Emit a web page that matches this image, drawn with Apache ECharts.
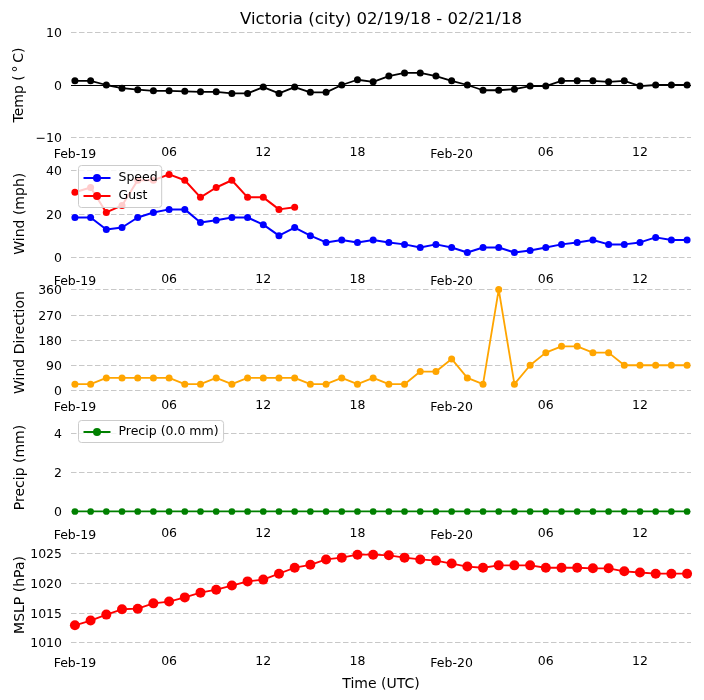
<!DOCTYPE html>
<html>
<head>
<meta charset="utf-8">
<style>html,body{margin:0;padding:0;background:#fff}#c{width:704px;height:700px}</style>
<script src="https://cdn.jsdelivr.net/npm/echarts@6/dist/echarts.min.js"></script>
</head>
<body>
<div id="c"></div>
<script>
const hours = [0,1,2,3,4,5,6,7,8,9,10,11,12,13,14,15,16,17,18,19,20,21,22,23,24,25,26,27,28,29,30,31,32,33,34,35,36,37,38,39];
const tickHours = [0,6,12,18,24,30,36];
const tickLabels = ['Feb-19','06','12','18','Feb-20','06','12'];
const temp = [0.8,0.8,0,-0.6,-0.9,-1.1,-1.1,-1.2,-1.3,-1.3,-1.6,-1.6,-0.4,-1.6,-0.4,-1.4,-1.4,0,1.0,0.6,1.7,2.3,2.3,1.7,0.8,0,-1.0,-1.0,-0.8,-0.2,-0.2,0.8,0.8,0.8,0.6,0.8,-0.2,0,0,0];
const speed = [18.3,18.3,12.8,13.7,18.3,20.6,22,22,16,17,18.3,18.3,15,10,13.7,10,6.9,8,6.9,8,6.9,6,4.6,6,4.6,2.3,4.6,4.6,2.3,3.2,4.6,6,6.9,8,6,6,6.9,9.2,8,8];
const gust = [29.8,32,20.6,23.8,35.3,35.3,38,35.3,27.5,32,35.3,27.5,27.5,22,23];
const direction = [22.5,22.5,45,45,45,45,45,22.5,22.5,45,22.5,45,45,45,45,22.5,22.5,45,22.5,45,22.5,22.5,67.5,67.5,112.5,45,22.5,360,22.5,90,135,157.5,157.5,135,135,90,90,90,90,90];
const precip = [0,0,0,0,0,0,0,0,0,0,0,0,0,0,0,0,0,0,0,0,0,0,0,0,0,0,0,0,0,0,0,0,0,0,0,0,0,0,0,0];
const mslp = [1012.9,1013.7,1014.7,1015.6,1015.7,1016.6,1016.9,1017.6,1018.4,1018.9,1019.6,1020.3,1020.6,1021.6,1022.6,1023.1,1024,1024.3,1024.8,1024.8,1024.7,1024.3,1024,1023.8,1023.3,1022.8,1022.6,1023,1023,1023,1022.6,1022.6,1022.6,1022.5,1022.5,1022,1021.8,1021.6,1021.6,1021.6];

const FONT = 'DejaVu Sans';
const panels = [
  {top:32.5, bottom:137.5, min:-10, max:10, interval:10, name:'Temp (\u2009\u00B0\u2009C)', labelMargin:9, gap:45, namePad:[0,0,0,0]},
  {top:170, bottom:257.5, min:0, max:40, interval:20, name:'Wind (mph)', labelMargin:16, gap:44, namePad:[0,0,0,0]},
  {top:289.5, bottom:390.5, min:0, max:360, interval:90, name:'Wind Direction', labelMargin:9, gap:44, namePad:[0,5,0,0]},
  {top:433.5, bottom:511.5, min:0, max:4, interval:2, name:'Precip (mm)', labelMargin:16, gap:44, namePad:[0,0,0,10]},
  {top:553.5, bottom:642.5, min:1010, max:1025, interval:5, name:'MSLP (hPa)', labelMargin:13, gap:44, namePad:[0,0,0,6]}
];
const pairs = a => a.map((v,i)=>[hours[i],v]);
function line(name,data,idx,color,size,width,extra){
  return Object.assign({
    name, type:'line', xAxisIndex:idx, yAxisIndex:idx, data:pairs(data),
    showSymbol:true, symbol:'circle', symbolSize:size, showAllSymbol:true,
    lineStyle:{color,width}, itemStyle:{color}, emphasis:{disabled:true}, animation:false
  },extra||{});
}
const option = {
  backgroundColor:'#fff',
  animation:false,
  title:{text:'Victoria (city) 02/19/18 - 02/21/18', left:376, top:6, textAlign:'center',
    textStyle:{fontFamily:FONT,fontSize:16.6,fontWeight:'normal',color:'#000'}},
  grid:panels.map(p=>({left:71,width:620,top:p.top,height:p.bottom-p.top,containLabel:false,outerBoundsMode:'none'})),
  xAxis:panels.map((p,i)=>({
    type:'value', gridIndex:i, min:-0.25, max:39.25,
    axisLine:{show:false}, axisTick:{show:false}, splitLine:{show:false},
    axisLabel:{
      customValues:tickHours, margin:p.labelMargin, fontFamily:FONT, fontSize:12.5, color:'#000',
      hideOverlap:false,
      formatter:v=>{const s=tickLabels[tickHours.indexOf(v)];return s.startsWith('Feb')?'{d|'+s+'}':s;},
      rich:{d:{fontFamily:FONT,fontSize:12.5,color:'#000',padding:[2,0,0,0]}}
    },
    name:i===4?'Time (UTC)':'', nameLocation:'middle', nameGap:35,
    nameTextStyle:{fontFamily:FONT,fontSize:14,color:'#000'}
  })),
  yAxis:panels.map((p,i)=>({
    type:'value', gridIndex:i, min:p.min, max:p.max, interval:p.interval,
    axisLine:{show:false}, axisTick:{show:false},
    splitLine:{show:true,lineStyle:{color:'#c8c8c8',width:1,type:[5.5,2.5]}},
    axisLabel:{margin:9,fontFamily:FONT,fontSize:12.5,color:'#000',
      formatter:v=>'{v|'+String(v).replace('-','\u2212')+'}',
      rich:{v:{fontFamily:FONT,fontSize:12.5,color:'#000',padding:[3,0,0,0]}}},
    name:p.name, nameLocation:'middle', nameGap:p.gap, nameMoveOverlap:false,
    nameTextStyle:{fontFamily:FONT,fontSize:14,color:'#000',padding:p.namePad}
  })),
  legend:[
    {data:['Speed','Gust'],orient:'vertical',left:78.5,top:165.5,itemWidth:27,itemHeight:10,itemGap:5,padding:[6,4,5,4],
     backgroundColor:'rgba(255,255,255,0.8)',borderColor:'#ccc',borderWidth:1,borderRadius:3,selectedMode:false,
     textStyle:{fontFamily:FONT,fontSize:12.5,color:'#000',padding:[0,0,0,3]}},
    {data:['Precip (0.0 mm)'],orient:'vertical',left:78.5,top:420.5,itemWidth:27,itemHeight:10,padding:[5,5,4,4],
     backgroundColor:'rgba(255,255,255,0.8)',borderColor:'#ccc',borderWidth:1,borderRadius:3,selectedMode:false,
     textStyle:{fontFamily:FONT,fontSize:12.5,color:'#000',padding:[0,0,0,3]}}
  ],
  series:[
    line('Temp',temp,0,'#000',7,1.8,{markLine:{silent:true,symbol:'none',animation:false,label:{show:false},
      lineStyle:{color:'#000',width:1,type:'solid'},emphasis:{disabled:true},data:[{yAxis:0}]}}),
    line('Speed',speed,1,'#0000ff',7,2),
    line('Gust',gust,1,'#ff0000',7,2),
    line('Direction',direction,2,'#ffa500',7,1.8),
    line('Precip (0.0 mm)',precip,3,'#008000',6.7,2.2),
    line('MSLP',mslp,4,'#ff0000',10,1.8)
  ]
};
const chart = echarts.init(document.getElementById('c'),null,{renderer:'canvas'});
chart.setOption(option);
</script>
</body>
</html>
